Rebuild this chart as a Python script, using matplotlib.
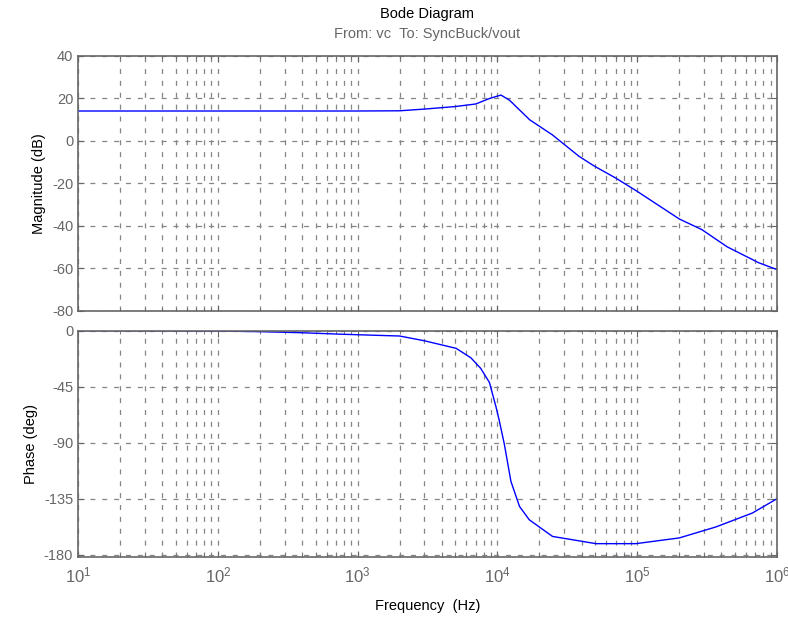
import matplotlib

matplotlib.use("Agg")

import matplotlib.pyplot as plt
import numpy as np
from matplotlib.ticker import FixedLocator, LogLocator, NullFormatter

plt.rcParams["font.family"] = ["Liberation Sans", "DejaVu Sans"]
plt.rcParams["axes.unicode_minus"] = False

# magnitude (Hz, dB)
mag_freq = [10, 100, 1000, 2000, 3000, 5000, 7000, 8800, 10600, 12200,
            17000, 24700, 38500, 49300, 70000, 1.0e5, 2.0e5, 2.9e5,
            4.4e5, 7.4e5, 1.0e6]
mag_db = [14.1, 14.1, 14.1, 14.2, 15.0, 16.2, 17.4, 20.0, 21.6, 19.2,
          10.0, 2.9, -7.3, -11.8, -17.4, -23.7, -36.7, -41.7,
          -49.8, -57.3, -60.5]

# phase (Hz, deg)
ph_freq = [10, 100, 200, 385, 786, 2000, 3000, 5070, 6460, 7600, 8770,
           9780, 10300, 11200, 12500, 14400, 16900, 24800, 50700, 98000,
           2.0e5, 3.65e5, 6.67e5, 1.0e6]
ph_deg = [-0.1, -0.4, -0.9, -1.7, -3.0, -4.4, -8.2, -14.3, -21.9, -30.4,
          -41.7, -61.4, -72.0, -91.0, -121.2, -141.3, -152.0, -165.4,
          -171.2, -171.2, -166.6, -157.8, -146.6, -135.1]

mag_ticks = [-80, -60, -40, -20, 0, 20, 40]
ph_ticks = [-180, -135, -90, -45, 0]

GRID = "#858585"
AXC = "#666666"
DASH = (0, (4, 5.5))

fig = plt.figure(figsize=(7.88, 6.19), dpi=100)
ax1 = fig.add_axes([0.099, 0.4976, 0.887, 0.412])
ax2 = fig.add_axes([0.099, 0.100, 0.887, 0.366])

for ax in (ax1, ax2):
    ax.set_xscale("log")
    ax.set_xlim(10, 1e6)
    ax.xaxis.set_major_locator(LogLocator(base=10, numticks=10))
    ax.xaxis.set_minor_locator(LogLocator(base=10, subs=np.arange(2, 10), numticks=100))
    ax.xaxis.set_minor_formatter(NullFormatter())
    ax.grid(True, which="both", axis="x", color=GRID, linestyle=DASH, linewidth=0.9)
    ax.grid(True, which="major", axis="y", color=GRID, linestyle=DASH, linewidth=0.9)
    ax.tick_params(which="both", direction="in", colors=AXC, labelsize=10.5,
                   top=True, right=True)
    ax.tick_params(which="major", length=4)
    ax.tick_params(which="minor", length=2)
    for s in ax.spines.values():
        s.set_color(AXC)
        s.set_linewidth(1.2)

ax1.plot(mag_freq, mag_db, color="#0000ff", linewidth=1.0)
ax1.set_ylim(-80, 40)
ax1.yaxis.set_major_locator(FixedLocator(mag_ticks))
ax1.set_yticklabels([str(t) for t in mag_ticks])
ax1.tick_params(axis="x", labelbottom=False)
ax1.set_ylabel("Magnitude (dB)", fontsize=10.5)

ax2.plot(ph_freq, ph_deg, color="#0000ff", linewidth=1.0)
ax2.set_ylim(-182, 0)
ax2.yaxis.set_major_locator(FixedLocator(ph_ticks))
ax2.set_yticklabels([str(t) for t in ph_ticks])
ax2.set_ylabel("Phase (deg)", fontsize=10.5)
ax2.set_xlabel("Frequency  (Hz)", fontsize=10.5, labelpad=10)
ax2.tick_params(axis="x", labelsize=12, pad=6)

fig.text(0.5416, 0.978, "Bode Diagram", ha="center", va="center", fontsize=10.5)
fig.text(0.5416, 0.945, "From: vc  To: SyncBuck/vout", ha="center", va="center",
         fontsize=10.5, color=AXC)

fig.savefig("out.png", dpi=100)
